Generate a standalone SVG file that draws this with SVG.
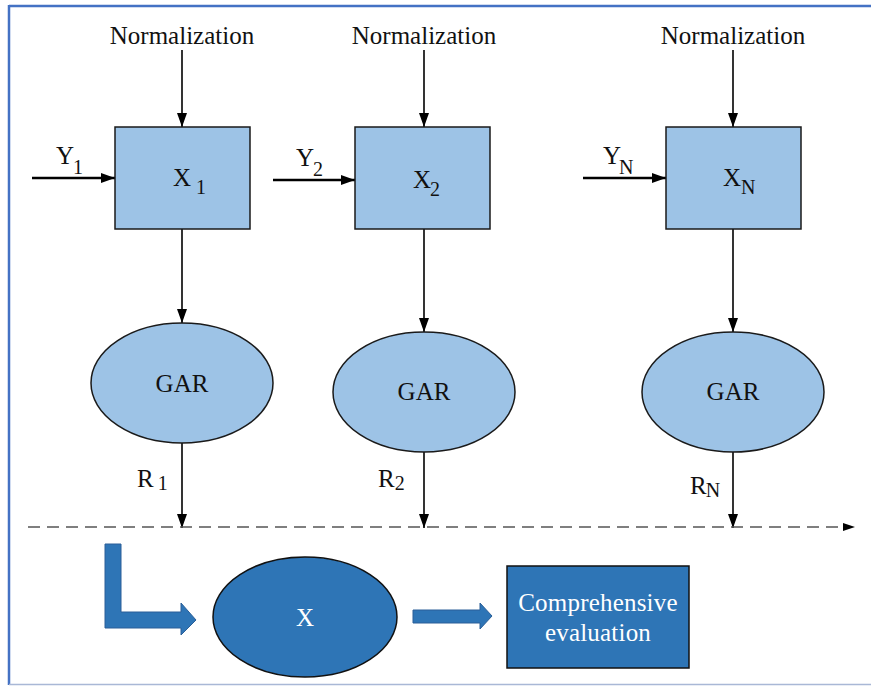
<svg xmlns="http://www.w3.org/2000/svg" width="871" height="686" viewBox="0 0 871 686">
<defs>
<marker id="ah" markerUnits="userSpaceOnUse" markerWidth="16" markerHeight="12" refX="14" refY="5" orient="auto">
<path d="M0,0 L14,5 L0,10 Z" fill="#000"/>
</marker>
<style>
.t{font-family:"Liberation Serif","Times New Roman",serif;fill:#111;font-size:25px}
.s{font-size:20px}
.w{fill:#fff}
.box{fill:#9DC3E6;stroke:#1a1a1a;stroke-width:1.5}
.dark{fill:#2E75B6;stroke:#111;stroke-width:1.5}
.c{stroke:#000;stroke-width:1.6;fill:none;marker-end:url(#ah)}
.c2{stroke:#000;stroke-width:2.5;fill:none;marker-end:url(#ah)}
.blk{fill:#2E75B6;stroke:#2a5f98;stroke-width:1}
</style>
</defs>
<rect x="0" y="0" width="871" height="686" fill="#fff"/>
<g id="frame">
<line x1="9" y1="6" x2="871" y2="6" stroke="#4472C4" stroke-width="2.5"/>
<line x1="9" y1="5" x2="9" y2="685" stroke="#4472C4" stroke-width="2.5"/>
<line x1="9" y1="684.5" x2="871" y2="684.5" stroke="#A9B8D6" stroke-width="1.5"/>
</g>
<g id="connectors">
<line class="c" x1="182" y1="50" x2="182" y2="127"/>
<line class="c" x1="424" y1="50" x2="424" y2="127"/>
<line class="c" x1="733" y1="50" x2="733" y2="127"/>
<line class="c2" x1="32" y1="178" x2="115" y2="178"/>
<line class="c2" x1="273" y1="180" x2="355" y2="180"/>
<line class="c2" x1="583" y1="178" x2="666" y2="178"/>
<line class="c" x1="182" y1="229" x2="182" y2="323"/>
<line class="c" x1="424" y1="229" x2="424" y2="332"/>
<line class="c" x1="733" y1="229" x2="733" y2="332"/>
<line class="c" x1="182" y1="443" x2="182" y2="528"/>
<line class="c" x1="424" y1="452" x2="424" y2="528"/>
<line class="c" x1="733" y1="452" x2="733" y2="528"/>
<line x1="28" y1="527" x2="843" y2="527" stroke="#555" stroke-width="1.5" stroke-dasharray="12,7"/>
<path d="M843,523 L855,527 L843,531 Z" fill="#000"/>
<path class="blk" d="M105,544 L121,544 L121,612 L181,612 L181,603 L196,620 L181,635 L181,628 L105,628 Z"/>
<path class="blk" d="M413,610 L480,610 L480,603 L492,616 L480,629 L480,623 L413,623 Z"/>
</g>
<g id="labels">
<text class="t" x="182" y="44" text-anchor="middle">Normalization</text>
<text class="t" x="424" y="44" text-anchor="middle">Normalization</text>
<text class="t" x="733" y="44" text-anchor="middle">Normalization</text>
<text class="t" x="56" y="164">Y<tspan class="s" dx="-1" dy="10">1</tspan></text>
<text class="t" x="296" y="166">Y<tspan class="s" dx="-1" dy="10">2</tspan></text>
<text class="t" x="603" y="164">Y<tspan class="s" dx="-2" dy="10">N</tspan></text>
<text class="t" x="137" y="487">R<tspan class="s" dx="4" dy="3">1</tspan></text>
<text class="t" x="378" y="487">R<tspan class="s" dx="0" dy="3">2</tspan></text>
<text class="t" x="690" y="494">R<tspan class="s" dx="-1" dy="3">N</tspan></text>
</g>
<g id="x1">
<rect class="box" x="115" y="127" width="135" height="102"/>
<text class="t" x="173" y="186">X<tspan class="s" dx="5" dy="8">1</tspan></text>
</g>
<g id="x2">
<rect class="box" x="355" y="127" width="135" height="102"/>
<text class="t" x="413" y="188">X<tspan class="s" dx="-1" dy="8">2</tspan></text>
</g>
<g id="xn">
<rect class="box" x="666" y="127" width="135" height="102"/>
<text class="t" x="723" y="186">X<tspan class="s" dx="0" dy="8">N</tspan></text>
</g>
<g id="gar1">
<ellipse class="box" cx="182" cy="383" rx="91" ry="60"/>
<text class="t" x="182" y="392" text-anchor="middle">GAR</text>
</g>
<g id="gar2">
<ellipse class="box" cx="424" cy="392" rx="91" ry="60"/>
<text class="t" x="424" y="400" text-anchor="middle">GAR</text>
</g>
<g id="garn">
<ellipse class="box" cx="733" cy="392" rx="91" ry="60"/>
<text class="t" x="733" y="400" text-anchor="middle">GAR</text>
</g>
<g id="x">
<ellipse class="dark" cx="305" cy="617" rx="92" ry="60"/>
<text class="t w" x="305" y="626" text-anchor="middle">X</text>
</g>
<g id="eval">
<rect class="dark" x="507" y="566" width="182" height="102"/>
<text class="t w" x="598" y="611" text-anchor="middle" letter-spacing="0.2">Comprehensive</text>
<text class="t w" x="598" y="641" text-anchor="middle" letter-spacing="0.2">evaluation</text>
</g>
</svg>
